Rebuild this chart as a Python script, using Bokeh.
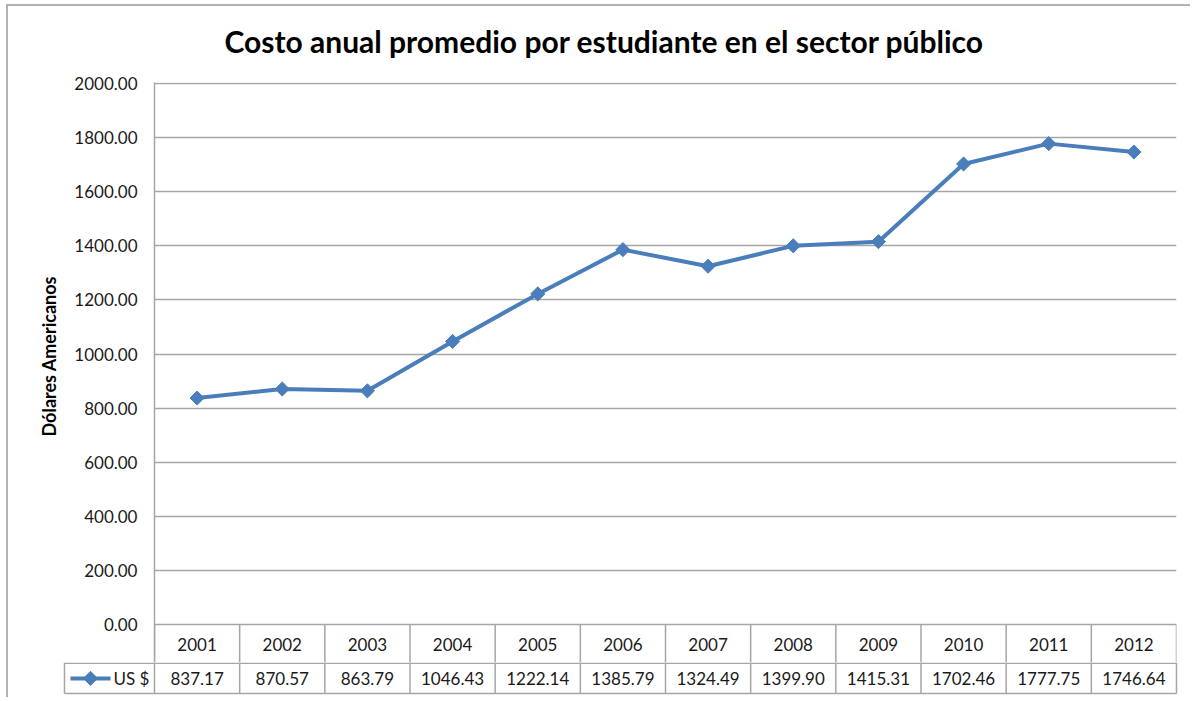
import math
from bokeh.plotting import figure
from bokeh.models import Range1d, NumeralTickFormatter, FixedTicker, Title
from bokeh.layouts import column
from bokeh.embed import file_html
from bokeh.resources import INLINE
from bokeh.core.properties import value

# ---------------- data ----------------
years = ["2001", "2002", "2003", "2004", "2005", "2006",
         "2007", "2008", "2009", "2010", "2011", "2012"]
costs = [837.17, 870.57, 863.79, 1046.43, 1222.14, 1385.79,
         1324.49, 1399.90, 1415.31, 1702.46, 1777.75, 1746.64]
y_ticks = [0, 200, 400, 600, 800, 1000, 1200, 1400, 1600, 1800, 2000]
series_name = "US $"
title_text = "Costo anual promedio por estudiante en el sector público"
y_label = "Dólares Americanos"

# ---------------- style / layout ----------------
FONT = "Lato"
BLUE = "#4A7EBB"
GRID = "#a6a6a6"
TXT = "#1a1a1a"

W = 1190
FRAME_L = 154           # x of plot-area left edge
FRAME_R = 1176          # x of plot-area right edge
TOP = 82                # y of plot-area top
ZERO_PX = 624           # y of the 0 gridline
YEARS_BOT = 662         # y where the years row ends (end of the chart figure)
n = len(years)
col_px = (FRAME_R - FRAME_L) / n
xs = list(range(n))
y_max = max(y_ticks)
UPP = y_max / (ZERO_PX - TOP - 1)   # data units per pixel


def px2x(cx):
    """canvas x (px) -> column units used by both figures"""
    return -0.5 + (cx - FRAME_L) / col_px


def py2y(cy):
    """canvas y (px) -> data units of the chart figure"""
    return (ZERO_PX - cy) * UPP


# ---------------- chart (with the years row of the table) ----------------
pa = figure(width=W, height=YEARS_BOT, output_backend="svg", toolbar_location=None,
            x_range=Range1d(-0.5, n - 0.5), y_range=Range1d(py2y(YEARS_BOT), py2y(TOP)),
            x_axis_location=None,
            min_border_left=FRAME_L, min_border_right=W - FRAME_R,
            min_border_top=TOP, min_border_bottom=0)
pa.frame_align = False
pa.border_fill_color = None
pa.background_fill_color = None
pa.outline_line_color = None
pa.xgrid.visible = False
pa.ygrid.ticker = FixedTicker(ticks=y_ticks)
pa.ygrid.grid_line_color = GRID
pa.ygrid.grid_line_width = 1.5

ya = pa.yaxis[0]
ya.ticker = FixedTicker(ticks=y_ticks)
ya.formatter = NumeralTickFormatter(format="0.00")
ya.major_tick_out = 0
ya.major_tick_in = 0
ya.minor_tick_out = 0
ya.minor_tick_in = 0
ya.major_label_standoff = 17
ya.axis_line_color = GRID
ya.axis_line_width = 1.5
ya.major_label_text_font = FONT
ya.major_label_text_font_size = "17px"
ya.major_label_text_color = TXT

# y-axis title, centred on the 0..2000 part of the axis
ytitle = Title(text=y_label, align="left", offset=YEARS_BOT - 436, standoff=24,
               text_font=FONT, text_font_size="18px", text_font_style="bold",
               text_color="#000000")
pa.add_layout(ytitle, "left")

pa.title.text = title_text
pa.title.align = "left"
pa.title.offset = 70
pa.title.vertical_align = "top"
pa.title.standoff = 43
pa.title.text_font = FONT
pa.title.text_font_size = "30px"
pa.title.text_font_style = "bold"
pa.title.text_color = "#000000"

pa.line(xs, costs, line_color=BLUE, line_width=4)
pa.scatter(xs, costs, marker="square", angle=math.pi / 4, size=10,
           fill_color=BLUE, line_color=BLUE)

edges = [i - 0.5 for i in range(n + 1)]
y_bottom = py2y(YEARS_BOT)
pa.segment(x0=edges, y0=[0] * len(edges), x1=edges, y1=[y_bottom] * len(edges),
           line_color=GRID, line_width=1.5)
pa.text(x=xs, y=[py2y((ZERO_PX + YEARS_BOT) / 2 + 0.5)] * n, text=years,
        text_align="center", text_baseline="middle",
        text_font=value(FONT), text_font_size="17px", text_color=TXT)

# ---------------- values row of the table (with legend key) ----------------
HB = 35
ROW_TOP, ROW_BOT = 0.75, 31
pb = figure(width=W, height=HB, output_backend="svg", toolbar_location=None,
            x_range=Range1d(px2x(0), px2x(W)), y_range=Range1d(HB, 0),
            x_axis_location=None, y_axis_location=None, min_border=0,
            min_border_left=0, min_border_right=0, min_border_top=0,
            min_border_bottom=0)
pb.frame_align = False
pb.border_fill_color = None
pb.background_fill_color = None
pb.title.visible = False
pb.outline_line_color = None
pb.grid.visible = False

leg_l = px2x(64)
vx = [leg_l] + edges
pb.segment(x0=vx, y0=[0] * len(vx), x1=vx, y1=[ROW_BOT] * len(vx),
           line_color=GRID, line_width=1.5)
pb.segment(x0=[leg_l, leg_l], y0=[ROW_TOP, ROW_BOT], x1=[edges[-1], edges[-1]],
           y1=[ROW_TOP, ROW_BOT], line_color=GRID, line_width=1.5)

val_y = (ROW_TOP + ROW_BOT) / 2
pb.text(x=xs, y=[val_y] * n, text=[f"{v:.2f}" for v in costs], text_align="center",
        text_baseline="middle", text_font=value(FONT), text_font_size="17px",
        text_color=TXT)

# legend key
pb.line(x=[px2x(70), px2x(110)], y=[val_y, val_y], line_color=BLUE, line_width=4)
pb.scatter(x=[px2x(90)], y=[val_y], marker="square", angle=math.pi / 4, size=10,
           fill_color=BLUE, line_color=BLUE)
pb.text(x=[px2x(113)], y=[val_y], text=[series_name], text_align="left",
        text_baseline="middle", text_font=value(FONT), text_font_size="17px",
        text_color=TXT)

border_css = ("linear-gradient(#b3b3b3,#b3b3b3) 6px 4px / 2px calc(100% - 4px) no-repeat, "
              "linear-gradient(#b3b3b3,#b3b3b3) 6px 4px / calc(100% - 6px) 2px no-repeat, "
              "#ffffff")
layout = column(pa, pb, spacing=0, styles={"background": border_css})

open("out.html", "w").write(file_html(layout, INLINE))
